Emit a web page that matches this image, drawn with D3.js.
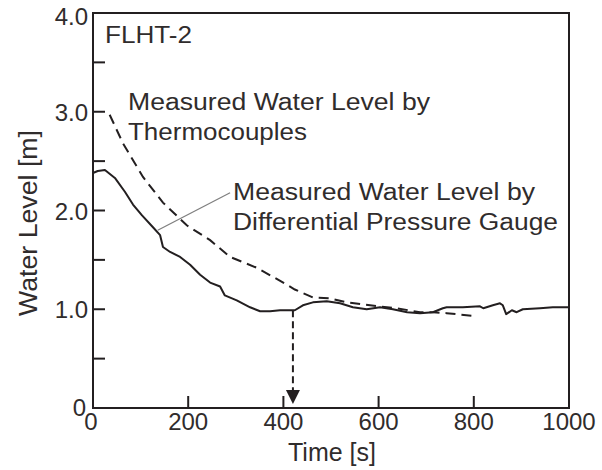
<!DOCTYPE html>
<html><head><meta charset="utf-8">
<script src="https://cdn.jsdelivr.net/npm/d3@7"></script>
<style>
html,body{margin:0;padding:0;background:#fff;}
svg text{font-family:"Liberation Sans",Arial,sans-serif;fill:#302c2c;}
</style></head>
<body><svg id="c" width="602" height="470"></svg>
<script>
// Differential pressure gauge (solid)
const pgTime  = [0,10,25,46,67,84,103,126,141,147,162,183,204,225,246,267,277,302,330,351,372,393,414,424,441,462,491,519,546,575,603,630,660,687,714,735,743,777,813,820,840,855,861,868,880,890,903,939,966,1000];
const pgLevel = [2.38,2.40,2.41,2.33,2.19,2.06,1.95,1.83,1.75,1.63,1.58,1.53,1.45,1.35,1.27,1.23,1.14,1.09,1.02,0.98,0.98,0.99,0.99,0.99,1.04,1.07,1.08,1.06,1.02,1.00,1.02,1.00,0.97,0.96,0.97,1.01,1.02,1.02,1.03,1.01,1.04,1.06,1.04,0.95,0.99,0.97,1.00,1.01,1.02,1.02];
// Thermocouples (dashed)
const tcTime  = [35,63,105,147,197,246,288,344,396,424,462,498,533,582,638,687,714,743,806];
const tcLevel = [2.97,2.68,2.34,2.08,1.85,1.70,1.53,1.42,1.28,1.20,1.12,1.11,1.07,1.04,1.01,0.97,0.97,0.96,0.93];
// ticks
const xTicks = [0,200,400,600,800,1000];
const xTickLabels = ["0","200","400","600","800","1000"];
const yTicks = [0,1,2,3,4];
const yTickLabels = ["0","1.0","2.0","3.0","4.0"];
const yMinor = [0.5,1.5,2.5,3.5];
// arrow marker
const arrowTime = 420, arrowFrom = 0.99, arrowTo = 0.04;

const svg = d3.select("#c");
const ink = "#231f20";
const x = d3.scaleLinear().domain([0,1000]).range([93,569]);
const y = d3.scaleLinear().domain([0,4]).range([408,13]);

// frame
svg.append("rect").attr("x",x(0)).attr("y",y(4)).attr("width",x(1000)-x(0)).attr("height",y(0)-y(4))
  .attr("fill","none").attr("stroke",ink).attr("stroke-width",2);

// ticks (inward)
const tickLen = 12;
svg.selectAll(".xt").data(xTicks.filter(d=>d>0&&d<1000)).enter().append("line")
  .attr("x1",d=>x(d)).attr("x2",d=>x(d)).attr("y1",y(0)).attr("y2",y(0)-tickLen)
  .attr("stroke",ink).attr("stroke-width",2);
svg.selectAll(".yt").data(yTicks.filter(d=>d>0&&d<4).concat(yMinor)).enter().append("line")
  .attr("x1",x(0)).attr("x2",x(0)+tickLen).attr("y1",d=>y(d)).attr("y2",d=>y(d))
  .attr("stroke",ink).attr("stroke-width",2);

// tick labels
svg.selectAll(".xl").data(xTicks).enter().append("text")
  .attr("x",(d,i)=> i===0 ? x(d)-2 : x(d)).attr("y",430).attr("text-anchor","middle")
  .attr("font-size",24).text((d,i)=>xTickLabels[i]);
svg.selectAll(".yl").data(yTicks).enter().append("text")
  .attr("x",d=> d===0 ? 86 : 88).attr("y",d=> d===0 ? y(d)+8 : y(d)+ (d===4?12:9)).attr("text-anchor","end")
  .attr("font-size",24).text((d,i)=>yTickLabels[i]);

// axis titles
svg.append("text").attr("x",332).attr("y",461).attr("text-anchor","middle").attr("font-size",25).text("Time [s]");
svg.append("text").attr("transform","translate(37,223) rotate(-90)").attr("text-anchor","middle")
  .attr("font-size",25).attr("textLength",186).attr("lengthAdjust","spacingAndGlyphs").text("Water Level [m]");

// lines
const line = d3.line().x(d=>x(d[0])).y(d=>y(d[1])).curve(d3.curveLinear);
svg.append("path").datum(tcTime.map((t,i)=>[t,tcLevel[i]])).attr("d",line)
  .attr("fill","none").attr("stroke",ink).attr("stroke-width",2).attr("stroke-dasharray","10,6");
svg.append("path").datum(pgTime.map((t,i)=>[t,pgLevel[i]])).attr("d",line)
  .attr("fill","none").attr("stroke",ink).attr("stroke-width",2).attr("stroke-linejoin","round");

// arrow
svg.append("line").attr("x1",x(arrowTime)).attr("x2",x(arrowTime)).attr("y1",y(arrowFrom)).attr("y2",y(arrowTo)-12)
  .attr("stroke",ink).attr("stroke-width",2).attr("stroke-dasharray","7,4");
const ax = x(arrowTime), ay = y(arrowTo);
svg.append("path").attr("d",`M${ax-7},${ay-14}L${ax+7},${ay-14}L${ax},${ay}Z`).attr("fill",ink);

// leader line
svg.append("line").attr("x1",x(136)).attr("y1",y(1.80)).attr("x2",x(288)).attr("y2",y(2.18))
  .attr("stroke","#808080").attr("stroke-width",1.3);

// annotations
svg.append("text").attr("x",105).attr("y",43).attr("font-size",24).attr("textLength",87).attr("lengthAdjust","spacingAndGlyphs").text("FLHT-2");
svg.append("text").attr("x",128).attr("y",110).attr("font-size",23).attr("textLength",302).attr("lengthAdjust","spacingAndGlyphs").text("Measured Water Level by");
svg.append("text").attr("x",128).attr("y",140).attr("font-size",23).attr("textLength",179).attr("lengthAdjust","spacingAndGlyphs").text("Thermocouples");
svg.append("text").attr("x",233).attr("y",200).attr("font-size",23).attr("textLength",302).attr("lengthAdjust","spacingAndGlyphs").text("Measured Water Level by");
svg.append("text").attr("x",233).attr("y",230).attr("font-size",23).attr("textLength",325).attr("lengthAdjust","spacingAndGlyphs").text("Differential Pressure Gauge");
</script></body></html>
